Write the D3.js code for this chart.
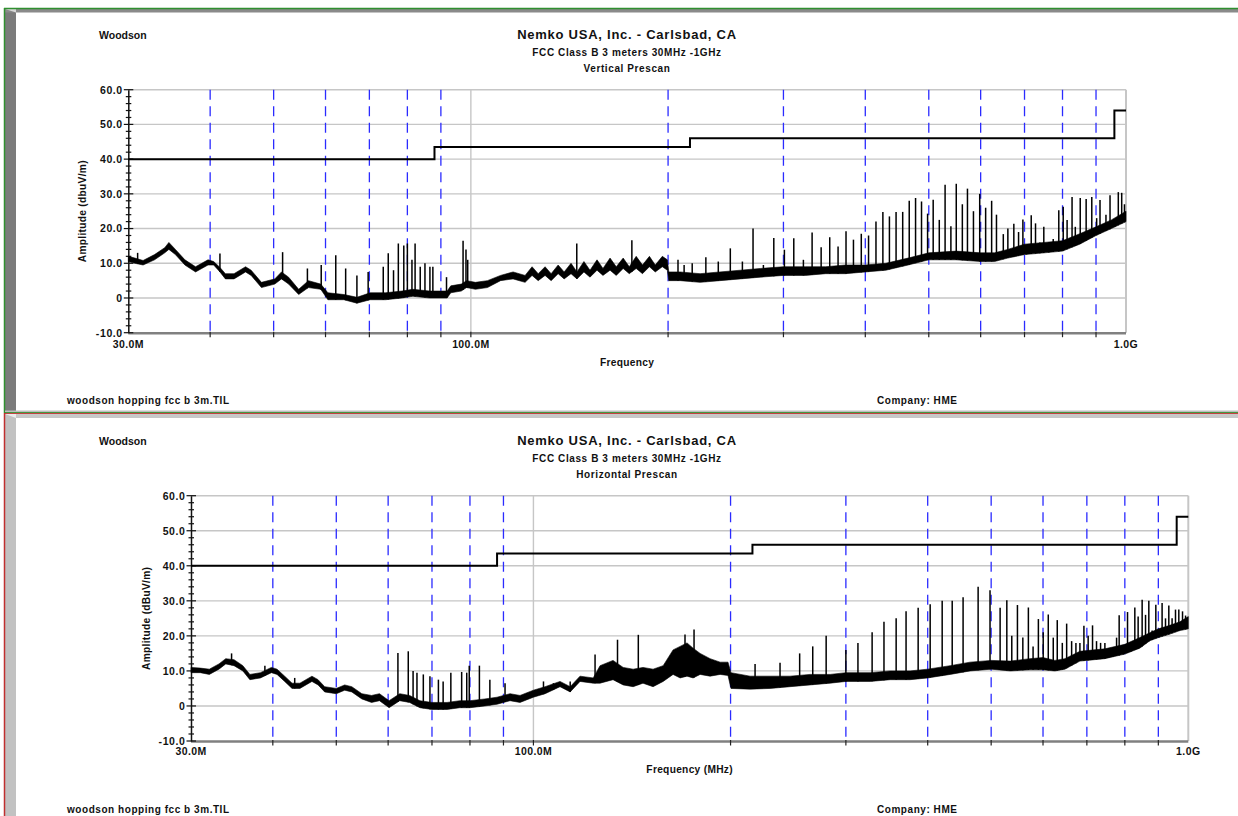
<!DOCTYPE html>
<html>
<head>
<meta charset="utf-8">
<script src="https://cdn.jsdelivr.net/npm/d3@7"></script>
<style>
  body { margin: 0; background: #fff; }
  svg text { font-family: "Liberation Sans", Arial, sans-serif; font-weight: bold; fill: #111; }
</style>
</head>
<body>
<svg id="chart" width="1238" height="816"></svg>
<script>
// ---- data (MHz, dBuV/m) ----
var guideFreqs = [40, 50, 60, 70, 80, 90, 200, 300, 400, 500, 600, 700, 800, 900];
var yTicks = [-10, 0, 10, 20, 30, 40, 50, 60];
var xTickLabels = [[30, "30.0M"], [100, "100.0M"], [1000, "1.0G"]];
// FCC class B 3 m limit
var limitSteps = [[30, 40], [88, 43.5], [216, 46], [960, 54], [1000, 54]];

// noise floor of the trace: [freq, low, high]
var vertBand = [
  [30, 10.5, 12], [30.7, 10, 11.5], [31.6, 9.5, 10.8], [32.9, 11, 12.5], [34.1, 13, 14.5],
  [34.6, 14, 16], [35.4, 12.5, 14], [36.6, 9.5, 11], [38, 7.5, 9], [39.7, 9.5, 11],
  [40.5, 9.5, 10.5], [41.4, 7.5, 8.8], [42.2, 5.5, 7], [43.5, 5.5, 7], [45.3, 7.5, 9],
  [46.2, 6.5, 8], [47.9, 3, 4.5], [50.2, 4, 5.5], [51.4, 5.5, 7.5], [52.7, 4, 6],
  [54.6, 1, 2.5], [56.5, 3, 5], [59, 2.5, 4], [60.5, -0.5, 1.5], [64, -0.5, 1],
  [67, -1.5, 0.2], [70.2, -0.5, 1.5], [74.1, -0.5, 1.5], [78.5, 0, 2], [81.5, 0.5, 2.5],
  [86.5, 0, 2], [92, 0, 2], [93.2, 1.5, 3.5], [96.7, 2, 4], [98.5, 3, 5],
  [101.6, 2.5, 4.5], [106, 3, 5], [111, 5, 6.5], [116, 5.5, 7.5], [121, 4.5, 6.5],
  [124, 6.5, 9], [126.7, 5, 7], [129.8, 6.5, 9], [132.6, 5, 7], [135.9, 7, 9.5],
  [138.8, 5.5, 7.5], [142.2, 7, 10], [145.2, 5.5, 7.5], [148.8, 7.5, 10.5], [152, 6, 8],
  [155.8, 8, 11], [159.1, 6.5, 8.5], [163.1, 8, 11.5], [166.7, 6.5, 9], [170.8, 8.5, 11.5],
  [174.5, 7, 9], [178.8, 8.5, 12], [182.8, 7, 9.5], [187.3, 9, 12], [191.2, 7.5, 9.5],
  [196, 9, 12], [199.5, 8, 11], [200.5, 5, 7.5], [208.7, 5, 7.5], [223.8, 4.5, 7],
  [240, 5, 7.5], [257.8, 5.5, 8], [276.6, 6, 8.5], [300, 6.5, 9], [324, 6.5, 9],
  [348, 7, 9], [373, 7, 9.5], [400, 7.5, 9.5], [430, 8, 10], [465, 9.5, 11.5],
  [500, 11, 13], [550, 11, 13.5], [600, 10.5, 13], [630, 10.5, 13], [660, 11.5, 14],
  [700, 12.5, 15.5], [750, 13, 16], [800, 13.5, 16.5], [850, 15.5, 18.5], [900, 18, 20.5],
  [950, 20, 22.5], [1000, 22, 25]
];
// narrow emissions above the floor: [freq, peak]
var vertSpikes = [
  [31, 13], [41.4, 12.8], [51.6, 13.2], [56.3, 8.5], [59.1, 9.5], [62.2, 12.3], [64.4, 8.5],
  [67, 6.5], [69.7, 7.5], [73.5, 9], [74.8, 12.9], [76.2, 8], [77.5, 15.7], [79, 15.1],
  [80, 15.7], [81.3, 11], [82.2, 15.7], [83.7, 9], [85.1, 10], [86.6, 9], [87.5, 9],
  [91.8, 6], [97.3, 16.5], [98.3, 14], [98.9, 11], [145.1, 15.7], [176.1, 16.6],
  [207.1, 11], [211.6, 9.5], [217.7, 10], [228.4, 11.7], [238.6, 10.5], [248.9, 14.3],
  [259.7, 10.5], [269.6, 20], [279.6, 9.5], [290, 17.3], [301, 13.9], [311.1, 17.2],
  [321.8, 11], [331.8, 18.9], [342.5, 14.6], [353, 17.5], [363.5, 14.8], [373.8, 19.2],
  [383.7, 16.8], [394.4, 18.5], [404.6, 18], [415.3, 22], [425.5, 24.8], [435.4, 23.5],
  [445.7, 24.8], [456.2, 24.8], [466.8, 28], [477.3, 28.8], [487.4, 27.8], [497.9, 24.3],
  [507.8, 28.3], [518.8, 22.5], [529.5, 32.6], [540.4, 20.7], [550.7, 32.9], [562.6, 27],
  [572.8, 31.5], [585, 25], [598, 30], [610.6, 26], [623.6, 28], [634.3, 24], [649.7, 18.4],
  [660.2, 20], [674.2, 21.4], [685.5, 19], [696, 22.6], [705, 14], [716.7, 23.8],
  [727.6, 21.5], [738.7, 16], [749.1, 20.5], [762.4, 16], [774.3, 17], [789.6, 25.3],
  [802, 26.3], [813, 22.5], [827.3, 29.1], [836.8, 20.5], [851.4, 28.8], [869.3, 28.5],
  [886.7, 29.1], [902, 23], [912.7, 28.2], [932, 24], [945.4, 29.6], [962.1, 22.5],
  [973.3, 30.5], [985, 30.3], [994.6, 27]
];

var horizBand = [
  [30, 9.5, 11], [31, 9.5, 10.8], [32, 9, 10.5], [33.1, 10.5, 12], [33.9, 12, 13.5],
  [34.9, 11.5, 13.2], [36, 10, 11.5], [36.9, 7.5, 9], [38.3, 8, 9.5], [39.8, 9.5, 11],
  [40.6, 9, 10.5], [41.7, 7, 8.5], [42.8, 5, 6.5], [44, 5, 6.5], [45.9, 7, 8.5],
  [46.9, 6, 7.5], [48, 4, 5.5], [50, 3.5, 5], [51.5, 4.5, 6], [52.8, 4, 5.5],
  [54.7, 2, 3.5], [56.6, 1, 3], [58.2, 1.5, 3.5], [60.2, -0.5, 1.5], [62.5, 1.5, 3.5],
  [64.7, 1, 3], [67.1, -0.5, 1.5], [70, -1, 1], [73.8, -1, 1], [77.2, -0.5, 1.5],
  [80, -0.5, 1.5], [84.3, 0, 2], [88, 0.5, 2.5], [92.1, 1.5, 3.5], [95.4, 1, 3],
  [100, 2.5, 4.5], [104.2, 3.5, 5.5], [109.8, 5.5, 7], [113.8, 4, 5.5], [117.8, 7, 8.5],
  [123.4, 6.5, 8], [126.4, 6.5, 11.5], [132.3, 7.5, 13], [137.1, 6, 11], [142, 5.5, 10.5],
  [147, 6.5, 11], [152.3, 5.5, 10.5], [157.8, 7, 11.5], [163.4, 9, 16], [167.5, 8, 17],
  [171.6, 8.5, 18], [175.3, 8, 16.5], [179.7, 9, 15], [186.1, 8.5, 13.5], [192.8, 9, 12.5],
  [198.2, 8.7, 12.5], [200.3, 5, 9.5], [214.2, 4.8, 8.5], [229.8, 5, 8.5], [246.5, 5.5, 8.5],
  [264.5, 6, 9], [283.8, 6.5, 9], [300, 7, 9.5], [326.7, 7, 9.5], [350.5, 7.5, 10],
  [376, 7.5, 10], [400, 8, 10.5], [432.9, 9, 11.5], [464.4, 10, 12.5], [500, 10.5, 13],
  [534.5, 10, 12.8], [573.2, 10.3, 13.5], [600, 10.3, 13.8], [625.7, 10, 13], [648, 10.5, 13.5],
  [683.1, 12.8, 15.6], [700, 13, 15.8], [745.8, 13.5, 16.3], [800, 14.8, 17.6], [843.3, 16.5, 19.5],
  [873.4, 18.6, 20.9], [900, 19.5, 22], [937, 20.5, 23], [970.6, 21.5, 24], [1000, 22, 25.5]
];
var horizSpikes = [
  [34.6, 15], [38.9, 11.5], [43.2, 8], [62.1, 15.1], [64.4, 15.6], [65.5, 10], [66.4, 9.5],
  [67.9, 9], [69.5, 8.5], [71.6, 7.5], [72.8, 7], [74.8, 9.5], [77.7, 9.7], [79.1, 9.5],
  [79.8, 11.5], [82.7, 11.5], [85.8, 7.5], [90.5, 6.5], [103.6, 7], [107.3, 6.5], [113.8, 7],
  [124.2, 14.7], [134.4, 18.9], [144.6, 20.3], [170.4, 20.4], [175.9, 21.8], [218, 12],
  [238, 12.3], [255, 15], [267, 17], [279.9, 20], [300, 16], [313, 18], [329, 21],
  [343, 24], [358, 25], [370.7, 27], [386.8, 28], [403.5, 29], [420.9, 30], [436, 30],
  [453, 31], [477.6, 34], [498, 33], [516, 28], [528.3, 30.2], [537.6, 20], [548.4, 28.8],
  [558.9, 19.5], [569.9, 28.1], [579.4, 17], [590.3, 24.8], [600.4, 21], [611.2, 26.1],
  [622, 19.5], [630.8, 24.5], [642.1, 18], [652, 23.5], [663.5, 18.5], [673.6, 18],
  [683.1, 18], [692.8, 22.9], [703.2, 20], [714.1, 23], [724.2, 18.5], [734.6, 18],
  [745.8, 18], [756.4, 15.5], [767.8, 16.5], [777.1, 19.5], [784.2, 25.9], [795.3, 17],
  [807.6, 26.8], [817, 16.5], [828.6, 28.1], [838.3, 25.5], [850.2, 30.3], [860.4, 26],
  [870.4, 30], [880.6, 21.5], [892.1, 28.9], [902.5, 21.5], [912, 29.4], [923, 25],
  [933.8, 28.7], [944.6, 25], [956, 27.5], [967.2, 27.5], [979.9, 27], [990.4, 25.8]
];

// ---- layout ----
var panels = [
  { top: 0, x0: 128.3, x1: 1126, yTop: 89.7, yBot: 332.7, band: vertBand, spikes: vertSpikes,
    pol: "Vertical Prescan", yLabel: "Amplitude (dbuV/m)", yLabelX: 82.5,
    xLabel: "Frequency", xTickY: 347.7, xLabelY: 366, footY: 404 },
  { top: 406, x0: 191, x1: 1188.3, yTop: 495.7, yBot: 741, band: horizBand, spikes: horizSpikes,
    pol: "Horizontal Prescan", yLabel: "Amplitude (dBuV/m)", yLabelX: 146.5,
    xLabel: "Frequency (MHz)", xTickY: 755, xLabelY: 772.7, footY: 812.7 }
];

var svg = d3.select("#chart");

// window frames
svg.append("rect").attr("x", 5).attr("y", 9).attr("width", 11).attr("height", 403).attr("fill", "#7b7b7b");
svg.append("rect").attr("x", 5).attr("y", 9).attr("width", 1233).attr("height", 3.5).attr("fill", "#8a8a8a");
svg.append("path").attr("d", "M5,9L16,12.5L16,9Z").attr("fill", "#d8d8d8");
svg.append("line").attr("x1", 4).attr("x2", 1238).attr("y1", 8.5).attr("y2", 8.5).attr("stroke", "#2f8f2f").attr("stroke-width", 1.5);
svg.append("line").attr("x1", 4.5).attr("x2", 4.5).attr("y1", 8).attr("y2", 413).attr("stroke", "#2f8f2f").attr("stroke-width", 1.5);
svg.append("rect").attr("x", 5).attr("y", 410.5).attr("width", 1233).attr("height", 1.6).attr("fill", "#bdbdbd");
svg.append("line").attr("x1", 4).attr("x2", 1238).attr("y1", 412.6).attr("y2", 412.6).attr("stroke", "#2f8f2f").attr("stroke-width", 1);
svg.append("line").attr("x1", 4).attr("x2", 1238).attr("y1", 413.6).attr("y2", 413.6).attr("stroke", "#c03030").attr("stroke-width", 1);
svg.append("rect").attr("x", 5).attr("y", 414).attr("width", 1233).attr("height", 4).attr("fill", "#c8c8c8");
svg.append("rect").attr("x", 5).attr("y", 414).attr("width", 11).attr("height", 402).attr("fill", "#c2c2c2");
svg.append("path").attr("d", "M5,414L16,418L16,414Z").attr("fill", "#ececec");
svg.append("line").attr("x1", 4.5).attr("x2", 4.5).attr("y1", 413).attr("y2", 816).attr("stroke", "#c03030").attr("stroke-width", 1.5);

function floorAt(band, f) {
  var i = d3.bisector(function(d) { return d[0]; }).left(band, f);
  if (i <= 0) return band[0][1];
  if (i >= band.length) return band[band.length - 1][1];
  var a = band[i - 1], b = band[i];
  var t = (Math.log(f) - Math.log(a[0])) / (Math.log(b[0]) - Math.log(a[0]));
  return a[1] + t * (b[1] - a[1]);
}

function fmtY(v) { return v === 0 ? "0" : v.toFixed(1); }

panels.forEach(function(p) {
  var g = svg.append("g");
  var x = d3.scaleLog().domain([30, 1000]).range([p.x0, p.x1]);
  var y = d3.scaleLinear().domain([-10, 60]).range([p.yBot, p.yTop]);

  // header text
  g.append("text").attr("x", 99).attr("y", p.top + 39.3).style("font-size", "10.5px").text("Woodson");
  g.append("text").attr("x", 627).attr("y", p.top + 38.7).attr("text-anchor", "middle")
    .style("font-size", "13px").style("letter-spacing", "0.75px").text("Nemko USA, Inc. - Carlsbad, CA");
  g.append("text").attr("x", 627).attr("y", p.top + 56).attr("text-anchor", "middle")
    .style("font-size", "10px").style("letter-spacing", "0.6px").text("FCC Class B 3 meters 30MHz -1GHz");
  g.append("text").attr("x", 627).attr("y", p.top + 72.3).attr("text-anchor", "middle")
    .style("font-size", "10px").style("letter-spacing", "0.6px").text(p.pol);

  // grid
  g.selectAll(".hg").data(yTicks.slice(1)).enter().append("line")
    .attr("x1", p.x0).attr("x2", p.x1).attr("y1", function(d) { return y(d); }).attr("y2", function(d) { return y(d); })
    .attr("stroke", "#c6c6c6").attr("stroke-width", 1.4);
  g.append("line").attr("x1", x(100)).attr("x2", x(100)).attr("y1", p.yTop).attr("y2", p.yBot)
    .attr("stroke", "#c6c6c6").attr("stroke-width", 1.4);
  g.append("line").attr("x1", p.x1).attr("x2", p.x1).attr("y1", p.yTop).attr("y2", p.yBot)
    .attr("stroke", "#c6c6c6").attr("stroke-width", 2);
  g.selectAll(".vg").data(guideFreqs).enter().append("line")
    .attr("x1", function(d) { return x(d); }).attr("x2", function(d) { return x(d); })
    .attr("y1", p.yTop).attr("y2", p.yBot)
    .attr("stroke", "#2b2bff").attr("stroke-width", 1.3).attr("stroke-dasharray", "10,6.5");

  // bottom axis
  g.append("line").attr("x1", p.x0).attr("x2", p.x1).attr("y1", p.yBot + 0.5).attr("y2", p.yBot + 0.5)
    .attr("stroke", "#808080").attr("stroke-width", 2.4);
  g.selectAll(".xt").data(guideFreqs.concat([100])).enter().append("line")
    .attr("x1", function(d) { return x(d); }).attr("x2", function(d) { return x(d); })
    .attr("y1", p.yBot - 1).attr("y2", p.yBot + 4.5).attr("stroke", "#222").attr("stroke-width", 1.2);
  g.selectAll(".xl").data(xTickLabels).enter().append("text")
    .attr("x", function(d) { return x(d[0]); }).attr("y", p.xTickY).attr("text-anchor", "middle")
    .style("font-size", "10.5px").style("letter-spacing", "0.4px").text(function(d) { return d[1]; });

  // left axis with minor ticks every 2 dB
  var yAxis = d3.axisLeft(y).tickValues(yTicks).tickSize(0).tickFormat("");
  g.append("g").attr("transform", "translate(" + p.x0 + ",0)").call(yAxis)
    .select(".domain").attr("stroke", "#111").attr("stroke-width", 1.5);
  g.selectAll(".ymin").data(d3.range(-10, 61, 2)).enter().append("line")
    .attr("x1", function(d) { return d % 10 === 0 ? p.x0 - 4.5 : p.x0 - 2.5; })
    .attr("x2", function(d) { return d % 10 === 0 ? p.x0 + 5 : p.x0 + 3; })
    .attr("y1", function(d) { return y(d); }).attr("y2", function(d) { return y(d); })
    .attr("stroke", "#111").attr("stroke-width", 1.2);
  g.selectAll(".yl").data(yTicks).enter().append("text")
    .attr("x", p.x0 - 5.5).attr("y", function(d) { return y(d) + 3.8; }).attr("text-anchor", "end")
    .style("font-size", "10.5px").style("letter-spacing", "0.6px").text(fmtY);

  g.append("text").attr("transform", "translate(" + (p.yLabelX + 3.5) + "," + ((p.yTop + p.yBot) / 2) + ") rotate(-90)")
    .attr("text-anchor", "middle").style("font-size", "10.2px").style("letter-spacing", "0.3px").text(p.yLabel);
  g.append("text").attr("x", (p.x0 + p.x1) / 2).attr("y", p.xLabelY).attr("text-anchor", "middle")
    .style("font-size", "10.2px").style("letter-spacing", "0.3px").text(p.xLabel);

  // footer
  g.append("text").attr("x", 67).attr("y", p.footY).style("font-size", "10px").style("letter-spacing", "0.55px")
    .text("woodson hopping fcc b 3m.TIL");
  g.append("text").attr("x", 877).attr("y", p.footY).style("font-size", "10px").style("letter-spacing", "0.55px")
    .text("Company: HME");

  // limit line
  var limitLine = d3.line().curve(d3.curveStepAfter)
    .x(function(d) { return x(d[0]); }).y(function(d) { return y(d[1]); });
  g.append("path").datum(limitSteps).attr("d", limitLine)
    .attr("fill", "none").attr("stroke", "#000").attr("stroke-width", 2);

  // measured trace: noise band plus narrow spikes
  var area = d3.area().x(function(d) { return x(d[0]); })
    .y0(function(d) { return y(d[1]); }).y1(function(d) { return y(d[2]); });
  g.append("path").datum(p.band).attr("d", area)
    .attr("fill", "#000").attr("stroke", "#000").attr("stroke-width", 0.6).attr("stroke-linejoin", "round");
  g.selectAll(".sp").data(p.spikes).enter().append("line")
    .attr("x1", function(d) { return x(d[0]); }).attr("x2", function(d) { return x(d[0]); })
    .attr("y1", function(d) { return y(floorAt(p.band, d[0])); })
    .attr("y2", function(d) { return y(d[1]); })
    .attr("stroke", "#000").attr("stroke-width", 1.5);
});
</script>
</body>
</html>
